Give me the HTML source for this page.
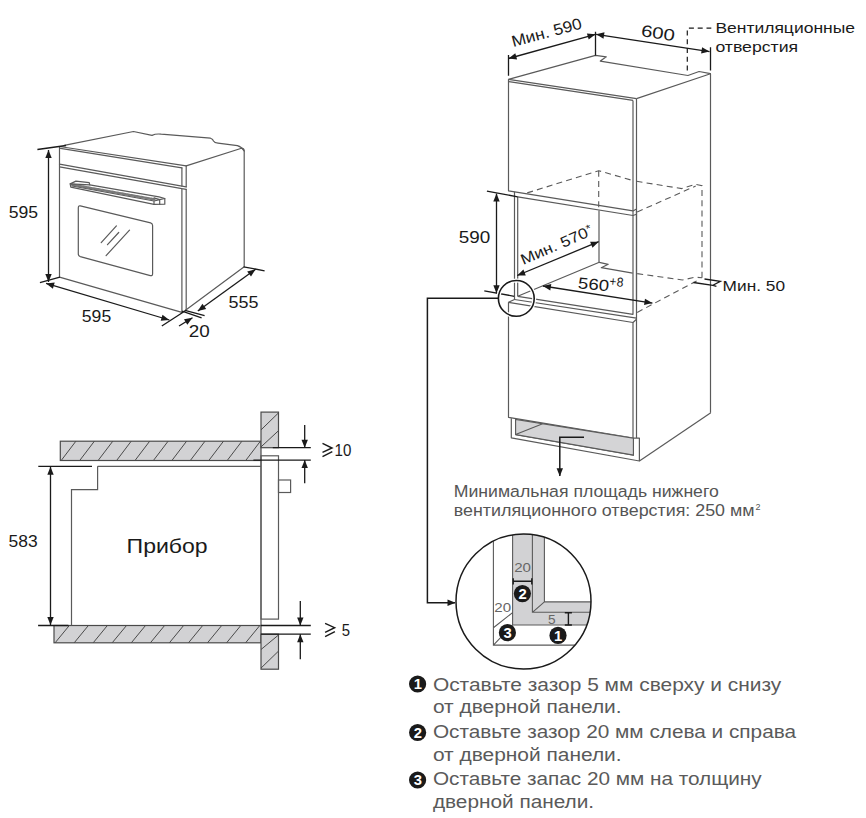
<!DOCTYPE html>
<html><head><meta charset="utf-8"><style>
html,body{margin:0;padding:0;background:#fff;width:866px;height:818px;overflow:hidden}
svg{display:block}
text{font-family:"Liberation Sans",sans-serif}
</style></head><body>
<svg width="866" height="818" viewBox="0 0 866 818">
<g fill="none" stroke="#5a5a5a" stroke-width="1.2" stroke-linejoin="round" stroke-linecap="round">
<path d="M59.5,146.5V277.2"/>
<path d="M59.5,146.5L186.2,165.9"/>
<path d="M60.5,148.3L181.9,167.8"/>
<path d="M59.5,164.2L181.9,186.1L186.2,186.8"/>
<path d="M59.5,166.8L181.9,188.7L186.2,189.3"/>
<path d="M181.9,167.8V186.1M186.2,165.9V186.8"/>
<path d="M181.9,188.7V312.4M186.2,189.3V310.3"/>
<path d="M59.5,277.2L181.9,312.4L186.2,310.3"/>
<path d="M186.2,165.9L241.5,148.2Q244.2,148.4 244.2,151V266.8L185.5,310.3"/>
<path d="M64.2,145.3L133.5,131.5L152,135.4Q156,133.5 161.2,134.2L210.5,138.2Q213,139 213.5,141Q214.5,142.8 218,143.2L237.4,145.6Q241.5,146.8 244.2,151"/>
<path d="M72,184.6L154.5,199.4" stroke="#7a7a7a" stroke-width="2.4" stroke-dasharray="1.2 1"/>
<path d="M70.2,183.9L75.9,181.1L89.2,182.6L89.8,184.9L159,196.9L164.8,198.5V204.2L154,204.4L70.8,187.1Z"/>
<path d="M70.2,183.9L89.8,184.9M72,186L154,201V204.4M154,201L159.7,199.6V204.3M154,197.9L159.7,199.6L164.8,198.5"/>
<path d="M80.3,205.9L150.6,222.9Q152.6,223.5 152.6,225.5V273.8Q152.6,276.2 150.3,275.6L80.3,256.6Q78.3,256 78.3,254V207.9Q78.3,205.4 80.3,205.9Z"/>
<path d="M101.2,242.6L116.4,225.9M107.5,244.7L118.7,232.5M106.1,255.6L129.5,230.2"/>
</g>
<g stroke="#1a1a1a" stroke-width="1.3" fill="none"><path d="M37.4,149.5L66.1,145.5M39.9,282.7L59.9,277.2M161.8,326L185,311M243.6,266.8L264.6,270.8M182,311.2L201.6,317.8M185,310.3L204.6,315.6"/></g>
<path d="M48.5,150.0L48.5,282.0" stroke="#1a1a1a" stroke-width="1.3"/><path d="M48.5,282.0L45.3,274.0L51.7,274.0Z" fill="#1a1a1a"/><path d="M48.5,150.0L51.7,158.0L45.3,158.0Z" fill="#1a1a1a"/>
<path d="M46.1,283.4L169.3,320.0" stroke="#1a1a1a" stroke-width="1.3"/><path d="M169.3,320.0L160.7,320.8L162.5,314.7Z" fill="#1a1a1a"/><path d="M46.1,283.4L54.7,282.6L52.9,288.7Z" fill="#1a1a1a"/>
<path d="M197.8,311.0L255.6,269.3" stroke="#1a1a1a" stroke-width="1.3"/><path d="M255.6,269.3L251.0,276.6L247.2,271.4Z" fill="#1a1a1a"/><path d="M197.8,311.0L202.4,303.7L206.2,308.9Z" fill="#1a1a1a"/>
<path d="M179,326L192.5,317.8" stroke="#1a1a1a" stroke-width="1.3"/><path d="M192.5,317.8L187.3,324.7L184.0,319.2Z" fill="#1a1a1a"/>
<text x="8.7" y="218.1" font-size="16.8" fill="#1a1a1a" textLength="29.4" lengthAdjust="spacingAndGlyphs">595</text>
<text x="81.8" y="322" font-size="16.8" fill="#1a1a1a" textLength="29.4" lengthAdjust="spacingAndGlyphs">595</text>
<text x="228.6" y="308" font-size="16.8" fill="#1a1a1a" textLength="30" lengthAdjust="spacingAndGlyphs">555</text>
<text x="188.8" y="337.3" font-size="16.8" fill="#1a1a1a" textLength="21" lengthAdjust="spacingAndGlyphs">20</text>
<g stroke="#4a4a4a" stroke-width="1.2" fill="#d2d2d4">
<rect x="60.3" y="441.2" width="200.7" height="19.3"/>
<rect x="261" y="412.1" width="17.5" height="35.6"/>
<rect x="54" y="625.5" width="207" height="17.3"/>
<rect x="261" y="634.2" width="17.5" height="35"/>
</g>
<path fill="none" stroke="#4a4a4a" stroke-width="1" d="M61.2,460.5L75.9,441.2M79.7,460.5L94.4,441.2M98.1,460.5L112.8,441.2M116.6,460.5L131.2,441.2M135.0,460.5L149.7,441.2M153.4,460.5L168.1,441.2M171.9,460.5L186.6,441.2M190.3,460.5L205.0,441.2M208.8,460.5L223.5,441.2M227.2,460.5L241.9,441.2M245.7,460.5L260.4,441.2M55.1,642.8L69.3,625.5M74.2,642.8L88.4,625.5M93.2,642.8L107.4,625.5M112.2,642.8L126.5,625.5M131.3,642.8L145.5,625.5M150.4,642.8L164.6,625.5M169.4,642.8L183.6,625.5M188.5,642.8L202.7,625.5M207.5,642.8L221.7,625.5M226.6,642.8L240.8,625.5M245.6,642.8L259.8,625.5M261,429.9L278.5,412.9M261,446.9L278.5,430.7M261,649.5L278.5,635M261,668.1L278.5,651.1"/>
<g fill="none" stroke="#5a5a5a" stroke-width="1.2">
<path d="M97.6,466.3H261M97.6,466.3V489.6H71.5V625.5"/>
<rect x="261" y="455.8" width="17.5" height="163.3"/>
<rect x="278.5" y="480" width="12.1" height="12.5"/>
<path d="M261,460.5V626"/>
</g>
<g stroke="#1a1a1a" stroke-width="1.3" fill="none"><path d="M38.3,466.3H92M38.1,625.5H68.4M272.8,447.7H310.8M253.4,460.1H310.8M261,625.5H310.8M261,634.2H310.8"/></g>
<path d="M50.5,466.8L50.5,625.0" stroke="#1a1a1a" stroke-width="1.3"/><path d="M50.5,625.0L47.3,617.0L53.7,617.0Z" fill="#1a1a1a"/><path d="M50.5,466.8L53.7,474.8L47.3,474.8Z" fill="#1a1a1a"/>
<path d="M304.7,425V447.7M304.7,483.3V460.1M300.3,601V625.5M300.3,659.2V634.2" stroke="#1a1a1a" stroke-width="1.3"/>
<path d="M304.7,447.7L301.5,439.7L307.9,439.7Z" fill="#1a1a1a"/><path d="M304.7,460.1L307.9,468.1L301.5,468.1Z" fill="#1a1a1a"/><path d="M300.3,625.5L297.1,617.5L303.5,617.5Z" fill="#1a1a1a"/><path d="M300.3,634.2L303.5,642.2L297.1,642.2Z" fill="#1a1a1a"/>
<text x="8.6" y="547.1" font-size="16.8" fill="#1a1a1a" textLength="29.1" lengthAdjust="spacingAndGlyphs">583</text>
<text x="126.6" y="553.3" font-size="21" fill="#1a1a1a" textLength="81.1" lengthAdjust="spacingAndGlyphs">Прибор</text>
<path d="M322.5,443.4L332,448L322.5,452.3M322.5,456.7L332.3,451.7" fill="none" stroke="#1a1a1a" stroke-width="1.45" stroke-linejoin="miter"/>
<text x="334.6" y="455.8" font-size="16.2" fill="#1a1a1a" textLength="16.8" lengthAdjust="spacingAndGlyphs">10</text>
<path d="M325.1,623.4L334.6,627.7L325.1,632.3M325.1,636.7L334.9,631.7" fill="none" stroke="#1a1a1a" stroke-width="1.45" stroke-linejoin="miter"/>
<text x="341.8" y="635.8" font-size="16.2" fill="#1a1a1a" textLength="8.3" lengthAdjust="spacingAndGlyphs">5</text>
<g fill="none" stroke="#5a5a5a" stroke-width="1.2" stroke-linejoin="round">
<path d="M508.5,79.3V190.8L633,210.9L636.5,208.9"/>
<path d="M508.5,79.3L636.5,98.6M509,81.6L633,100.4"/>
<path d="M633,100.4V216M636.5,98.6V211"/>
<path d="M508.5,79.3L595.5,55.4L606.3,56.8L600.3,61.1L687.9,75.5L699.1,71.5L710.5,73.7L636.5,98.6"/>
<path d="M710.5,73.7V412.7"/>
<path d="M517.7,196.8L633,215.5L636.5,214.3"/>
<path d="M514.5,191.8V296.7M517.7,196.8V296.3"/>
<path d="M636.5,211V300"/>
<path d="M599,210.6V262.3"/>
<path d="M517.7,296.3L599.3,262.3L608.2,264.3L601.3,267.7L632.7,273.1"/>
</g>
<g fill="none" stroke="#5a5a5a" stroke-width="1.1" stroke-dasharray="6 4.2">
<path d="M527.2,192.9L598.7,170.7L633.8,180.8M636.5,181.3L681.8,188.6L695,184.3L702,185.6V277.7"/>
<path d="M598.7,170.7V210"/>
<path d="M637.2,212L695.7,186"/>
<path d="M637.2,273.6L682.4,280L695,277.2L702,277.7"/>
<path d="M637.2,312.4L698.5,280"/>
</g>
<g fill="none" stroke="#5a5a5a" stroke-width="1.2" stroke-linejoin="round">
<path d="M633,216V314.3L517.7,296.3"/>
<path d="M514.5,299.5L636.5,318.1"/>
<path d="M508.5,302.3V417.3L633.4,438.1M508.5,302.3L514.5,299.5V296.5"/>
<path d="M508.5,302.3L633,322.5L636.5,319.3"/>
<path d="M633,322.5V438.1M636.5,211V438"/>
<path d="M511.3,418.2V437.8L639.4,461V438.2H633.4M515.6,419V434.6L633.4,455.1V438.1"/>
<path d="M639.4,461L710.8,412.7"/>
</g>
<path d="M515.6,419.4V434.6L633.4,455.1V438.1Z" fill="#d4d4d6"/>
<path d="M515.6,419.4V434.6L633.4,455.1V438.1ZM515.6,434.6L543.3,423.4" fill="none" stroke="#5a5a5a" stroke-width="1.1"/>
<g stroke="#1a1a1a" stroke-width="1.3" fill="none">
<path d="M508.5,55V75.8M595.5,31.7V55.4M710.5,47.2V70.6"/>
<path d="M486.9,191.1L517.7,196.8M484.3,290.8L514.3,296.3"/>
<path d="M693.5,282.5L712.9,285.3M704.5,279L720.4,281.3L712.9,285.3L716.4,286.3"/>
</g>
<path d="M508.5,58.5L595.5,34.3" stroke="#1a1a1a" stroke-width="1.3"/><path d="M595.5,34.3L588.7,39.5L586.9,33.4Z" fill="#1a1a1a"/><path d="M508.5,58.5L515.3,53.3L517.1,59.4Z" fill="#1a1a1a"/>
<path d="M596.1,34.3L709.5,51.6" stroke="#1a1a1a" stroke-width="1.3"/><path d="M709.5,51.6L701.1,53.6L702.1,47.2Z" fill="#1a1a1a"/><path d="M596.1,34.3L604.5,32.3L603.5,38.7Z" fill="#1a1a1a"/>
<path d="M496.5,193.6L496.5,293.3" stroke="#1a1a1a" stroke-width="1.3"/><path d="M496.5,293.3L493.3,285.3L499.7,285.3Z" fill="#1a1a1a"/><path d="M496.5,193.6L499.7,201.6L493.3,201.6Z" fill="#1a1a1a"/>
<path d="M517.2,275.5L598.7,241.7" stroke="#1a1a1a" stroke-width="1.3"/><path d="M598.7,241.7L592.5,247.7L590.1,241.8Z" fill="#1a1a1a"/><path d="M517.2,275.5L523.4,269.5L525.8,275.4Z" fill="#1a1a1a"/>
<path d="M542.9,286.0L652.4,303.1" stroke="#1a1a1a" stroke-width="1.3"/><path d="M652.4,303.1L644.0,305.0L645.0,298.7Z" fill="#1a1a1a"/><path d="M542.9,286.0L551.3,284.1L550.3,290.4Z" fill="#1a1a1a"/>
<path d="M687.3,70.6V28.2H711.3" fill="none" stroke="#1a1a1a" stroke-width="1.2" stroke-dasharray="5 3.8"/>
<circle cx="516.3" cy="298.4" r="17.9" fill="none" stroke="#fff" stroke-width="4"/>
<circle cx="516.3" cy="298.4" r="17.9" fill="none" stroke="#1a1a1a" stroke-width="1.6"/>
<path d="M498.3,298.2H427.4V602.7H455" fill="none" stroke="#1a1a1a" stroke-width="1.5"/>
<path d="M455.5,602.7L447.5,605.9L447.5,599.5Z" fill="#1a1a1a"/>
<path d="M584,437.2H559.8V476" fill="none" stroke="#1a1a1a" stroke-width="1.5"/>
<path d="M559.8,476.2L556.6,468.2L563.0,468.2Z" fill="#1a1a1a"/>
<text x="715.4" y="33.2" font-size="15.3" fill="#1a1a1a" textLength="139.6" lengthAdjust="spacingAndGlyphs">Вентиляционные</text>
<text x="715.4" y="51.9" font-size="15.3" fill="#1a1a1a" textLength="82.7" lengthAdjust="spacingAndGlyphs">отверстия</text>
<text x="458.7" y="243.1" font-size="16.8" fill="#1a1a1a" textLength="31.5" lengthAdjust="spacingAndGlyphs">590</text>
<text x="722.6" y="291.1" font-size="15.3" fill="#1a1a1a" textLength="62.4" lengthAdjust="spacingAndGlyphs">Мин. 50</text>
<text x="0" y="0" font-size="15.8" fill="#1a1a1a" textLength="72" lengthAdjust="spacingAndGlyphs" transform="translate(513.2,47) rotate(-15)">Мин. 590</text>
<text x="0" y="0" font-size="16.5" fill="#1a1a1a" textLength="34" lengthAdjust="spacingAndGlyphs" transform="translate(640.4,36) rotate(8.7)">600</text>
<text x="0" y="0" font-size="15" fill="#1a1a1a" textLength="77" lengthAdjust="spacingAndGlyphs" transform="translate(523.2,265) rotate(-23.3)">Мин. 570<tspan font-size="11" dy="-4">*</tspan></text>
<text x="0" y="0" font-size="16.5" fill="#1a1a1a" transform="translate(577.6,288.2) rotate(6)"><tspan font-size="15.8" textLength="31" lengthAdjust="spacingAndGlyphs">560</tspan><tspan dy="-6" font-size="13" textLength="14" lengthAdjust="spacingAndGlyphs">+8</tspan></text>
<text x="453.8" y="497.2" font-size="16.3" fill="#555" textLength="265" lengthAdjust="spacingAndGlyphs">Минимальная площадь нижнего</text>
<text x="453.8" y="515.8" font-size="16.3" fill="#555" textLength="300.7" lengthAdjust="spacingAndGlyphs">вентиляционного отверстия: 250 мм</text>
<text x="755.6" y="509.8" font-size="9.5" fill="#555" textLength="5" lengthAdjust="spacingAndGlyphs">2</text>
<defs><clipPath id="cc"><circle cx="523.5" cy="601.5" r="67.5"/></clipPath></defs>
<g clip-path="url(#cc)">
<path d="M512.6,520V625H600V612.3H532.4V520Z" fill="#d2d2d4"/>
<path d="M532.4,520V612.3H600V601.9H544.4V520Z" fill="#d2d2d4"/>
<g fill="none" stroke="#5a5a5a" stroke-width="1.1">
<path d="M493.4,520V645.1H600M512.6,520V625H600M532.4,520V612.3H600M544.4,520V601.9H600M532.4,612.3L544.4,601.9M493.4,627.8L512.6,612.6M493.4,645.1L512.6,625"/>
</g>
</g>
<circle cx="523.5" cy="601.5" r="67.5" fill="none" stroke="#1a1a1a" stroke-width="1.5"/>
<path d="M513.2,581.3H531.8M513.2,578.3V584.4M531.8,578.3V584.4M568.4,612.8V625M564.8,612.8H571.9M564.8,625H571.9" stroke="#1a1a1a" stroke-width="1.4" fill="none"/>
<text x="514.2" y="571.8" font-size="12.8" fill="#666" textLength="16.8" lengthAdjust="spacingAndGlyphs">20</text>
<text x="494.3" y="611.7" font-size="12.8" fill="#666" textLength="16.8" lengthAdjust="spacingAndGlyphs">20</text>
<text x="547.9" y="624" font-size="12.8" fill="#666" textLength="7.6" lengthAdjust="spacingAndGlyphs">5</text>
<circle cx="522.4" cy="593.6" r="8.6" fill="#1a1a1a"/><text x="522.6" y="598.9" font-size="14.8" font-weight="bold" fill="#fff" text-anchor="middle">2</text>
<circle cx="507.4" cy="632.7" r="8.6" fill="#1a1a1a"/><text x="507.59999999999997" y="638.0" font-size="14.8" font-weight="bold" fill="#fff" text-anchor="middle">3</text>
<circle cx="558" cy="635.4" r="8.6" fill="#1a1a1a"/><text x="558.2" y="640.6999999999999" font-size="14.8" font-weight="bold" fill="#fff" text-anchor="middle">1</text>
<circle cx="417.6" cy="684" r="8.6" fill="#1a1a1a"/><text x="417.8" y="689.3" font-size="14.8" font-weight="bold" fill="#fff" text-anchor="middle">1</text>
<circle cx="417.6" cy="732.5" r="8.6" fill="#1a1a1a"/><text x="417.8" y="737.8" font-size="14.8" font-weight="bold" fill="#fff" text-anchor="middle">2</text>
<circle cx="417.6" cy="780" r="8.6" fill="#1a1a1a"/><text x="417.8" y="785.3" font-size="14.8" font-weight="bold" fill="#fff" text-anchor="middle">3</text>
<text x="432.9" y="690.8" font-size="17.5" fill="#5a5a5a" textLength="348.4" lengthAdjust="spacingAndGlyphs">Оставьте зазор 5 мм сверху и снизу</text>
<text x="432.9" y="713.1" font-size="17.5" fill="#5a5a5a" textLength="188.7" lengthAdjust="spacingAndGlyphs">от дверной панели.</text>
<text x="432.9" y="737.8" font-size="17.5" fill="#5a5a5a" textLength="363.2" lengthAdjust="spacingAndGlyphs">Оставьте зазор 20 мм слева и справа</text>
<text x="432.9" y="760.6" font-size="17.5" fill="#5a5a5a" textLength="188.7" lengthAdjust="spacingAndGlyphs">от дверной панели.</text>
<text x="432.9" y="785.1" font-size="17.5" fill="#5a5a5a" textLength="328.8" lengthAdjust="spacingAndGlyphs">Оставьте запас 20 мм на толщину</text>
<text x="432.9" y="807.7" font-size="17.5" fill="#5a5a5a" textLength="161.2" lengthAdjust="spacingAndGlyphs">дверной панели.</text>
</svg></body></html>
